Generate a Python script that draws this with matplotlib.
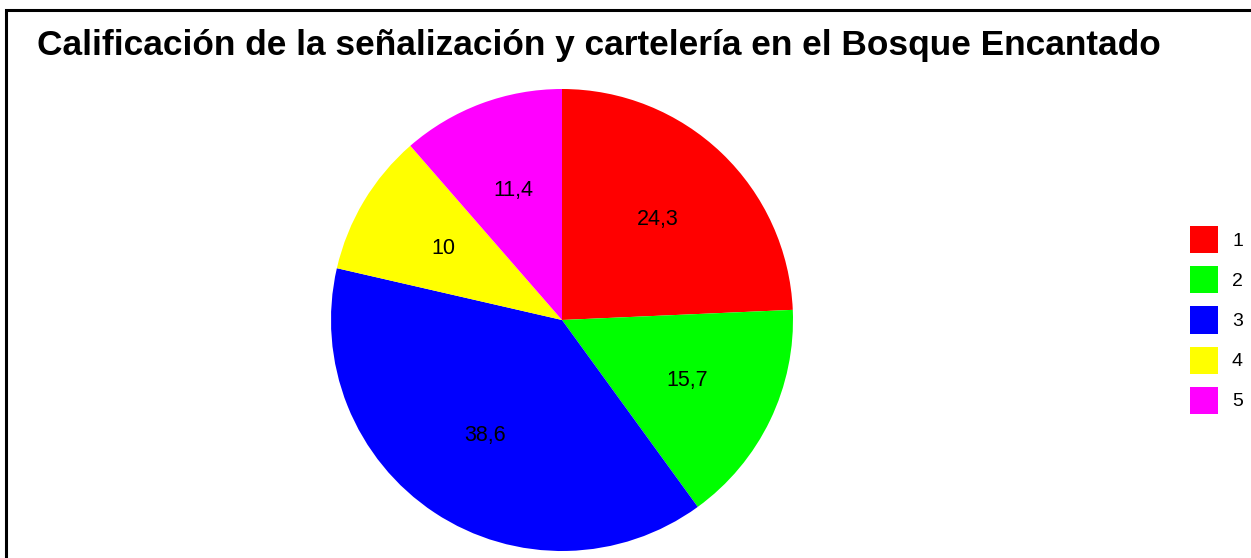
import matplotlib.pyplot as plt
from matplotlib.patches import Patch, Rectangle

plt.rcParams['font.family'] = ['Liberation Sans', 'DejaVu Sans']

categories = ['1', '2', '3', '4', '5']
values = [24.3, 15.7, 38.6, 10, 11.4]
value_labels = ['24,3', '15,7', '38,6', '10', '11,4']
colors = ['#ff0000', '#00ff00', '#0000ff', '#ffff00', '#ff00ff']
title = 'Calificación de la señalización y cartelería en el Bosque Encantado'

fig = plt.figure(figsize=(12.51, 5.58), dpi=100)

# frame round the picture (only left and top edges are visible)
fig.patches.append(Rectangle((6 / 1251, -0.1), 1.2, (558 - 10) / 558 + 0.1,
                             transform=fig.transFigure, fill=False,
                             edgecolor='black', linewidth=2.2))

ax = fig.add_axes([(562 - 231) / 1251, (558 - 551) / 558, 462 / 1251, 462 / 558])
wedges, texts = ax.pie(values, colors=colors, startangle=90, counterclock=False,
                       labels=value_labels, labeldistance=0.6,
                       textprops=dict(fontsize=15.5, ha='center', va='center'))
ax.set_xlim(-1, 1)
ax.set_ylim(-1, 1)
ax.set_aspect('equal')
ax.axis('off')

fig.text(37 / 1251, 1 - 55 / 558, title, fontsize=25.4, fontweight='bold',
         ha='left', va='baseline')

handles = [Patch(facecolor=c, edgecolor='none') for c in colors]
fig.legend(handles, categories, loc='center left',
           bbox_to_anchor=(1190 / 1251, 1 - 320 / 558),
           frameon=False, fontsize=14, handlelength=1.44, handleheight=1.76,
           labelspacing=0.67, handletextpad=0.72, borderpad=0, borderaxespad=0)

fig.savefig('out.png', dpi=100)
